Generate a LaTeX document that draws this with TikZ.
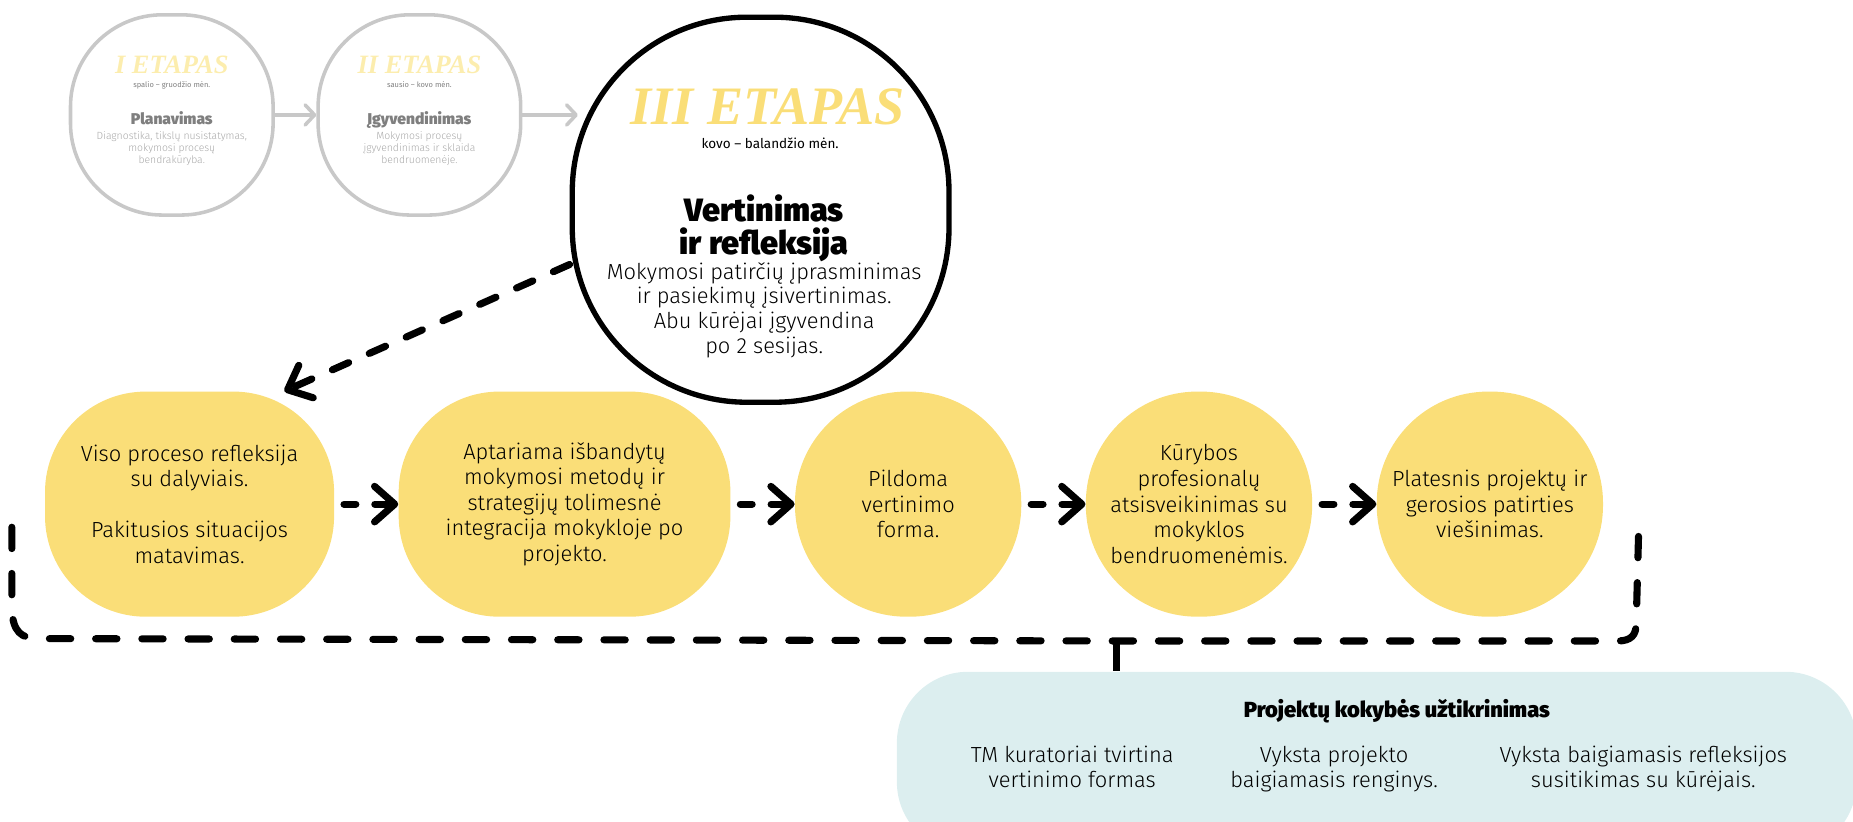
\documentclass[tikz,border=0pt]{standalone}
\usepackage{fontspec}
\setmainfont{Fira Sans Light}[BoldFont={Fira Sans Black}]
\newfontfamily\medfont{Fira Sans}
\newfontfamily\etapfont{Liberation Serif}
\usetikzlibrary{arrows.meta,positioning}
\definecolor{etapyellow}{HTML}{FADE78}
\definecolor{paleyellow}{HTML}{FCEDAE}
\definecolor{stagegray}{HTML}{C8C8C8}
\definecolor{titlegray}{HTML}{7F7F7F}
\definecolor{bodygray}{HTML}{A8A8A8}
\definecolor{qblue}{HTML}{DCEEEF}
\tikzset{
  stage/.style={
    % The shape:
    shape=rectangle,rounded corners=1.55cm,
    % The size:
    minimum width=3.42cm,minimum height=3.38cm,inner sep=0pt,
    % The border:
    line width=0.6mm,draw=stagegray
  },
  current/.style={
    shape=rectangle,rounded corners=2.95cm,
    minimum width=6.36cm,minimum height=6.5cm,inner sep=0pt,
    line width=0.9mm,draw=black
  },
  blob/.style={
    shape=rectangle,rounded corners=1.88cm,
    minimum height=3.8cm,inner sep=0pt,
    fill=etapyellow,align=center,
    font=\fontsize{10.5}{12.3}\selectfont
  },
  quality/.style={
    shape=rectangle,rounded corners=1.2cm,
    minimum width=16.2cm,minimum height=3.06cm,
    fill=qblue
  },
  etap/.style={font=\etapfont\bfseries\itshape\fontsize{#1}{#1}\selectfont,anchor=base},
  txt/.style={font=\fontsize{10.5}{12.3}\selectfont,align=center,anchor=base},
  grayarrow/.style={-{Straight Barb[length=1.6mm,width=3.4mm,round]},line width=0.6mm,draw=stagegray},
  dasharrow/.style={-{Straight Barb[length=3.4mm,width=6mm,round]},line width=1.2mm,line cap=round,dash pattern=on 2mm off 3.2mm},
  bracket/.style={line width=1.2mm,line cap=round,dash pattern=on 3.6mm off 4.2mm}
}
\begin{document}
\begin{tikzpicture}[x=0.2mm,y=-0.2mm]
	\useasboundingbox (0,0) rectangle (1564,693);
	\clip (0,0) rectangle (1564,693);
	% stages
	\node[stage] (c1) at (145,97) {};
	\node[stage] (c2) at (354,97) {};
	\node[current] (c3) at (642,177) {};
	\draw[grayarrow] (c1) -- (c2);
	\draw[grayarrow] (c2.east) -- ([xshift=1.4mm]c3.west |- c2.east);

	\node[etap=12.7,text=paleyellow] (e1) at (145,62) {I ETAPAS};
	\node[font=\medfont\fontsize{3.6}{4}\selectfont,text=titlegray,anchor=base] (m1) at (145,74) {spalio – gruodžio mėn.};
	\node[font=\bfseries\fontsize{7.5}{8}\selectfont,text=titlegray,anchor=base] (h1) at (145,105) {Planavimas};
	\node[font=\fontsize{5}{5.7}\selectfont,text=bodygray,align=center,anchor=base] (b1) at (145,138)
		{Diagnostika, tikslų nusistatymas,\\mokymosi procesų\\bendrakūryba.};

	\node[etap=12.7,text=paleyellow] (e2) at (354,62) {II ETAPAS};
	\node[font=\medfont\fontsize{3.6}{4}\selectfont,text=titlegray,anchor=base] (m2) at (354,74) {sausio – kovo mėn.};
	\node[font=\bfseries\fontsize{7.5}{8}\selectfont,text=titlegray,anchor=base] (h2) at (354,105) {Įgyvendinimas};
	\node[font=\fontsize{5}{5.7}\selectfont,text=bodygray,align=center,anchor=base] (b2) at (354,138)
		{Mokymosi procesų\\įgyvendinimas ir sklaida\\bendruomenėje.};

	\node[etap=26,text=etapyellow] (e3) at (648,105) {III ETAPAS};
	\node[font=\medfont\fontsize{6.5}{7}\selectfont,anchor=base] (m3) at (650,125) {kovo – balandžio mėn.};
	\node[font=\bfseries\fontsize{15.5}{16}\selectfont,align=center,anchor=base] (h3) at (645,215) {Vertinimas\\ir refleksija};
	\node[txt,font=\fontsize{10.5}{11.8}\selectfont] (b3) at (645,298)
		{Mokymosi patirčių įprasminimas\\ir pasiekimų įsivertinimas.\\Abu kūrėjai įgyvendina\\po 2 sesijas.};

	% steps of the stage
	\matrix (steps) [column sep=10.9mm] at (695.5,425.5) {
		\node[blob,rounded corners=1.7cm,minimum width=4.88cm] (y1) {Viso proceso refleksija\\su dalyviais.\\[12.3pt]Pakitusios situacijos\\matavimas.}; &
		\node[blob,rounded corners=1.7cm,minimum width=5.6cm] (y2) {Aptariama išbandytų\\mokymosi metodų ir\\strategijų tolimesnė\\integracija mokykloje po\\projekto.}; &
		\node[blob,minimum width=3.82cm] (y3) {Pildoma\\vertinimo\\forma.}; &
		\node[blob,minimum width=3.82cm] (y4) {Kūrybos\\profesionalų\\atsisveikinimas su\\mokyklos\\bendruomenėmis.}; &
		\node[blob,minimum width=3.82cm] (y5) {Platesnis projektų ir\\gerosios patirties\\viešinimas.}; \\
	};
	\draw[dasharrow,dash pattern=on 3mm off 3.8mm] (c3.196) -- (y1.50);
	\draw[dasharrow,shorten <=1.6mm] (y1) -- (y2);
	\draw[dasharrow,shorten <=1.6mm] (y2) -- (y3);
	\draw[dasharrow,shorten <=1.6mm] (y3) -- (y4);
	\draw[dasharrow,shorten <=1.6mm] (y4) -- (y5);

	% quality assurance
	\node[quality] (q) at (1162,643.5) {};
	\node[font=\bfseries\fontsize{10.5}{12}\selectfont,anchor=base] (qt) at (1179,606) {Projektų kokybės užtikrinimas};
	\node[txt] (q1) at (905,665) {TM kuratoriai tvirtina\\vertinimo formas};
	\node[txt] (q2) at (1126,665) {Vyksta projekto\\baigiamasis renginys.};
	\node[txt] (q3) at (1387,665) {Vyksta baigiamasis refleksijos\\susitikimas su kūrėjais.};

	\coordinate (bl) at (10,445);
	\coordinate (br) at (1383,451);
	\coordinate (tick) at (942,541);
	\draw[bracket] (bl) -- (10,515) .. controls (11,533) and (18,539) .. (32,539) -- (tick)
		-- (1365,541) .. controls (1377,541) and (1381,536) .. (1381,526) -- (br);
	\draw[line width=1.2mm] (tick) -- (tick |- q.north);
\end{tikzpicture}
\end{document}
